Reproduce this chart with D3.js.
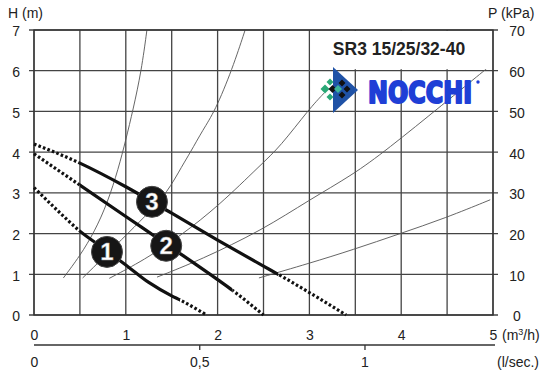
<!DOCTYPE html>
<html><head><meta charset="utf-8">
<script src="https://cdn.jsdelivr.net/npm/d3@7"></script>
<style>
html,body{margin:0;padding:0;background:#fff;}
svg{display:block;font-family:"Liberation Sans",Arial,sans-serif;}
</style></head><body>
<svg id="chart" width="550" height="380"></svg>
<script>
// ---- data ----
const flowTicks = [0, 1, 2, 3, 4, 5];
const flowGrid = [0, 0.5, 1, 1.5, 2, 2.5, 3, 3.5, 4, 4.5, 5];
const headTicks = [0, 1, 2, 3, 4, 5, 6, 7];
const pressureTicks = [0, 10, 20, 30, 40, 50, 60, 70];
const lsTicks = [0, 0.5, 1];
const lsLabels = ["0", "0,5", "1"];

const pump1Q = [0, 0.25, 0.5, 0.75, 1.0, 1.25, 1.5, 1.59, 1.88];
const pump1H = [3.13, 2.58, 2.06, 1.65, 1.23, 0.8, 0.47, 0.37, 0];
const pump2Q = [0, 0.5, 1.0, 1.5, 2.0, 2.16, 2.5];
const pump2H = [3.96, 3.19, 2.42, 1.65, 0.87, 0.61, 0];
const pump3Q = [0, 0.5, 1.0, 1.5, 2.0, 2.5, 2.66, 3.0, 3.4];
const pump3H = [4.2, 3.73, 3.15, 2.5, 1.84, 1.2, 1.0, 0.55, 0];
const pumpSolidFrom = [0.5, 0.5, 0.5];
const pumpSolidTo = [1.59, 2.16, 2.66];
const pumpNames = ["1", "2", "3"];
const pumpLabelQ = [0.795, 1.44, 1.285];
const pumpLabelH = [1.55, 1.70, 2.78];

const sysAQ = [0.32, 0.5, 0.66, 0.8, 0.92, 1.0, 1.08, 1.17, 1.23];
const sysAH = [0.91, 1.45, 2.05, 2.75, 3.6, 4.3, 5.05, 6.0, 7.0];
const sysBQ = [0.53, 1.23, 1.45, 1.62, 1.70, 1.84, 1.97, 2.16, 2.30];
const sysBH = [0.91, 2.46, 3.0, 3.69, 3.98, 4.55, 5.0, 6.04, 7.0];
const sysCQ = [0.82, 1.2, 1.6, 2.02, 2.47, 2.68, 3.0, 3.16];
const sysCH = [0.9, 1.35, 1.95, 2.7, 3.69, 4.13, 5.07, 5.45];
const sysDQ = [1.34, 1.81, 2.49, 3.0, 3.47, 3.84, 4.47, 4.93];
const sysDH = [0.93, 1.35, 2.09, 2.83, 3.44, 4.05, 5.2, 6.05];
const sysEQ = [2.45, 3.0, 3.47, 3.99, 4.48, 4.97];
const sysEH = [0.91, 1.27, 1.6, 2.0, 2.38, 2.83];

const titleText = "SR3 15/25/32-40";
const brandText = "NOCCHI";

// ---- drawing ----
const svg = d3.select("#chart");
const x = d3.scaleLinear().domain([0, 5]).range([34, 493]);
const y = d3.scaleLinear().domain([0, 7]).range([315, 30]);
const yP = d3.scaleLinear().domain([0, 70]).range([315, 30]);
const xL = d3.scaleLinear().domain([0, 5 / 3.6]).range([34, 493]);
const ink = "#222";
const gridCol = "#444";

// grid
svg.append("g").selectAll("line").data(flowGrid).join("line")
  .attr("x1", d => x(d)).attr("x2", d => x(d))
  .attr("y1", y(7)).attr("y2", y(0))
  .attr("stroke", gridCol).attr("stroke-width", 1.3);
svg.append("g").selectAll("line").data(headTicks).join("line")
  .attr("x1", x(0) - 5).attr("x2", x(5) + 5)
  .attr("y1", d => y(d)).attr("y2", d => y(d))
  .attr("stroke", gridCol).attr("stroke-width", 1.3);

// system curves
const sysLine = d3.line().x(d => x(d[0])).y(d => y(d[1])).curve(d3.curveBasis);
const sysSets = [[sysAQ, sysAH], [sysBQ, sysBH], [sysCQ, sysCH], [sysDQ, sysDH], [sysEQ, sysEH]];
sysSets.forEach(([qs, hs]) => {
  svg.append("path").datum(qs.map((q, i) => [q, hs[i]]))
    .attr("d", sysLine).attr("fill", "none")
    .attr("stroke", "#555").attr("stroke-width", 0.9);
});

// title box
svg.append("rect").attr("x", x(3) + 1).attr("y", y(7) + 1)
  .attr("width", x(5) - x(3) - 2).attr("height", y(6) - y(7) - 2.5)
  .attr("fill", "#fff");
svg.append("text").attr("x", 399).attr("y", 55)
  .attr("text-anchor", "middle").attr("font-size", 17.5).attr("font-weight", "bold")
  .attr("fill", ink).text(titleText);

// logo
const logo = svg.append("g");
logo.append("path").attr("d", "M333,67 L358,90 L333,113 Z").attr("fill", "#1f52a6");
const dia = (cx, cy, r, col) => logo.append("path")
  .attr("d", `M${cx - r},${cy} L${cx},${cy - r} L${cx + r},${cy} L${cx},${cy + r} Z`).attr("fill", col);
dia(325, 89, 4.5, "#2aa876");
dia(330, 82, 3.5, "#2aa876");
dia(330, 97, 3.5, "#2aa876");
dia(332.5, 89, 4, "#111");
dia(338, 89, 4, "#3cb59a");
dia(342, 83, 3.5, "#111");
dia(342, 95, 3.5, "#111");
dia(347, 89, 3.5, "#111");
logo.append("text").attr("x", 368).attr("y", 102.5)
  .attr("font-family", "'DejaVu Sans', sans-serif").attr("font-weight", "bold")
  .attr("font-size", 30).attr("textLength", 104).attr("lengthAdjust", "spacingAndGlyphs")
  .attr("fill", "#1f3fd6").attr("stroke", "#1f3fd6").attr("stroke-width", 2.2)
  .attr("stroke-linejoin", "round").text(brandText);
logo.append("circle").attr("cx", 478).attr("cy", 82).attr("r", 1.7).attr("fill", "#1f3fd6");

// frame
svg.append("rect").attr("x", x(0)).attr("y", y(7))
  .attr("width", x(5) - x(0)).attr("height", y(0) - y(7))
  .attr("fill", "none").attr("stroke", "#333").attr("stroke-width", 1.3);

// pump curves
const defs = svg.append("defs");
const pumpLine = d3.line().x(d => x(d[0])).y(d => y(d[1])).curve(d3.curveMonotoneX);
const pumpSets = [[pump1Q, pump1H], [pump2Q, pump2H], [pump3Q, pump3H]];
pumpSets.forEach(([qs, hs], i) => {
  const pts = qs.map((q, j) => [q, hs[j]]);
  const cs = defs.append("clipPath").attr("id", "cs" + i);
  cs.append("rect").attr("x", x(pumpSolidFrom[i])).attr("y", 0)
    .attr("width", x(pumpSolidTo[i]) - x(pumpSolidFrom[i])).attr("height", 380);
  const cd = defs.append("clipPath").attr("id", "cd" + i);
  cd.append("rect").attr("x", 0).attr("y", 0).attr("width", x(pumpSolidFrom[i])).attr("height", 380);
  cd.append("rect").attr("x", x(pumpSolidTo[i])).attr("y", 0).attr("width", 550).attr("height", 380);
  svg.append("path").datum(pts).attr("d", pumpLine).attr("fill", "none")
    .attr("stroke", "#111").attr("stroke-width", 3.2).attr("stroke-dasharray", "2.6,2.2")
    .attr("clip-path", `url(#cd${i})`);
  svg.append("path").datum(pts).attr("d", pumpLine).attr("fill", "none")
    .attr("stroke", "#111").attr("stroke-width", 3.2).attr("clip-path", `url(#cs${i})`);
});

// pump labels
const lab = svg.append("g").selectAll("g").data(pumpNames).join("g")
  .attr("transform", (d, i) => `translate(${x(pumpLabelQ[i])},${y(pumpLabelH[i])})`);
lab.append("circle").attr("r", 15.5).attr("fill", "#161616").attr("stroke", "#444").attr("stroke-width", 1);
lab.append("text").attr("text-anchor", "middle").attr("y", 8.5)
  .attr("font-size", 24).attr("font-weight", "bold").attr("fill", "#fff")
  .attr("stroke", "#999").attr("stroke-width", 0.4).text(d => d);

// axes
const styleAxis = g => { g.select(".domain").remove(); g.selectAll("text").attr("fill", ink).attr("font-size", 14).attr("font-family", "'Liberation Sans', Arial, sans-serif"); };
svg.append("g").attr("transform", `translate(${x(0)},0)`)
  .call(d3.axisLeft(y).tickValues(headTicks).tickSize(0).tickPadding(14).tickFormat(d3.format("d")))
  .call(styleAxis).selectAll("text").attr("dy", "0.42em");
svg.append("g").attr("transform", `translate(${x(5)},0)`)
  .call(d3.axisRight(yP).tickValues(pressureTicks).tickSize(0).tickFormat(d3.format("d")))
  .call(styleAxis).selectAll("text").attr("x", 24).attr("text-anchor", "middle").attr("dy", "0.42em");
svg.append("g").attr("transform", `translate(0,${y(0)})`)
  .call(d3.axisBottom(x).tickValues(flowTicks).tickSize(0).tickPadding(15).tickFormat(d3.format("d")))
  .call(styleAxis);

// l/sec axis
const gl = svg.append("g").attr("transform", "translate(0,345)")
  .call(d3.axisBottom(xL).tickValues(lsTicks).tickSize(5).tickPadding(7).tickFormat((d, i) => lsLabels[i]));
gl.select(".domain").attr("stroke", "#333").attr("stroke-width", 1.3).attr("d", `M${xL(0)},0H${x(5) + 2}`);
gl.selectAll(".tick line").attr("stroke", "#333").attr("stroke-width", 1.3).filter(d => d === 0).remove();
gl.selectAll("text").attr("fill", ink).attr("font-size", 14).attr("font-family", "'Liberation Sans', Arial, sans-serif");

// axis titles
const t = (tx, ty, s, anchor) => svg.append("text").attr("x", tx).attr("y", ty)
  .attr("font-size", 14).attr("fill", ink).attr("text-anchor", anchor || "start").text(s);
t(8, 18, "H (m)");
t(488, 18, "P (kPa)");
const mh = svg.append("text").attr("x", 502).attr("y", 340).attr("font-size", 14).attr("fill", ink);
mh.append("tspan").text("(m");
mh.append("tspan").attr("font-size", 9).attr("dy", -5).text("3");
mh.append("tspan").attr("dy", 5).text("/h)");
t(497, 367, "(l/sec.)");
</script>
</body></html>
